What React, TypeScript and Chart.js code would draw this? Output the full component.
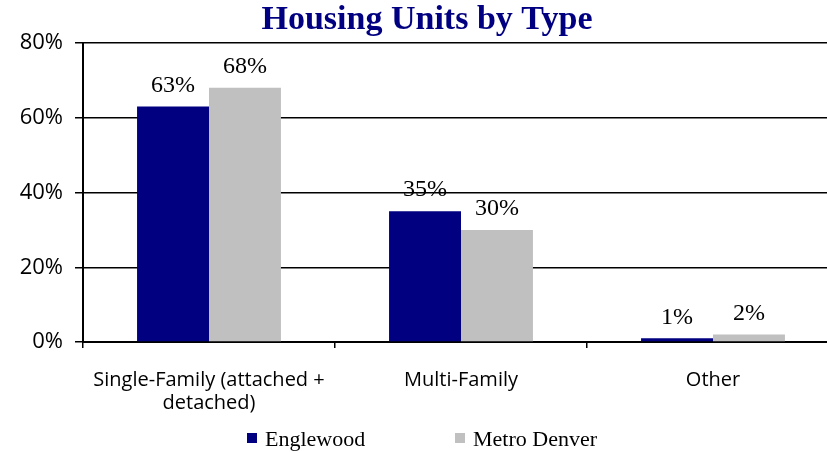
import React, { useEffect, useRef } from "react";
import { Chart, registerables } from "chart.js";

Chart.register(...registerables);

const titleText = "Housing Units by Type";
const categories: (string | string[])[] = [
  ["Single-Family (attached +", "detached)"],
  "Multi-Family",
  "Other",
];
const seriesNames = ["Englewood", "Metro Denver"];
const englewood = [63, 35, 1];
const metroDenver = [68, 30, 2];
const yTicks = [0, 20, 40, 60, 80];
const colors = ["#000080", "#C0C0C0"];

const titlePlugin = {
  id: "customTitle",
  afterDraw(chart: any) {
    const ctx = chart.ctx;
    ctx.save();
    ctx.font = 'bold 34px "Liberation Serif"';
    ctx.fillStyle = "#000080";
    ctx.textAlign = "center";
    ctx.textBaseline = "middle";
    ctx.fillText(titleText, 427, 20);
    ctx.restore();
  },
};

const dataLabelPlugin = {
  id: "dataLabels",
  afterDatasetsDraw(chart: any) {
    const ctx = chart.ctx;
    ctx.save();
    ctx.font = '24px "Liberation Serif"';
    ctx.fillStyle = "#000";
    ctx.textAlign = "center";
    ctx.textBaseline = "middle";
    chart.data.datasets.forEach((ds: any, di: number) => {
      const meta = chart.getDatasetMeta(di);
      meta.data.forEach((bar: any, i: number) => {
        ctx.fillText(ds.data[i] + "%", bar.x, bar.y - 21);
      });
    });
    ctx.restore();
  },
};

const legendPlugin = {
  id: "customLegend",
  afterDraw(chart: any) {
    const ctx = chart.ctx;
    ctx.save();
    ctx.font = '22px "Liberation Serif"';
    ctx.textBaseline = "middle";
    ctx.textAlign = "left";
    const starts = [247, 455];
    const y = 440;
    chart.data.datasets.forEach((ds: any, di: number) => {
      const x = starts[di];
      ctx.fillStyle = ds.backgroundColor;
      ctx.fillRect(x, y - 7, 10, 10);
      ctx.fillStyle = "#000";
      ctx.fillText(ds.label, x + 18, y);
    });
    ctx.restore();
  },
};

export default function App() {
  const ref = useRef<HTMLCanvasElement>(null);
  useEffect(() => {
    if (!ref.current) return;
    const chart = new Chart(ref.current, {
      type: "bar",
      data: {
        labels: categories,
        datasets: [
          { label: seriesNames[0], data: englewood, backgroundColor: colors[0] },
          { label: seriesNames[1], data: metroDenver, backgroundColor: colors[1] },
        ],
      },
      plugins: [dataLabelPlugin, legendPlugin, titlePlugin],
      options: {
        animation: false,
        responsive: false,
        maintainAspectRatio: false,
        layout: { padding: { left: 0, right: 0, top: 43, bottom: 36 } },
        datasets: {
          bar: { barPercentage: 1, categoryPercentage: 0.571 },
        },
        plugins: {
          legend: { display: false },
          tooltip: { enabled: false },
          title: { display: false },
        },
        scales: {
          x: {
            grid: {
              offset: true,
              drawOnChartArea: false,
              drawTicks: true,
              tickLength: 6,
              color: "#000",
              lineWidth: 1.5,
            },
            border: { color: "#000", width: 2 },
            ticks: {
              color: "#000",
              padding: 21,
              font: { family: "Open Sans", size: 20, lineHeight: 1.15 },
            },
            afterFit(scale: any) {
              scale.height = 75;
            },
          },
          y: {
            min: 0,
            max: 80,
            afterBuildTicks(scale: any) {
              scale.ticks = yTicks.map((v) => ({ value: v }));
            },
            grid: {
              color: "#000",
              lineWidth: 1.5,
              drawTicks: true,
              tickLength: 8,
            },
            border: { color: "#000", width: 2 },
            ticks: {
              color: "#000",
              padding: 12,
              font: { family: "Open Sans", size: 22 },
              callback: (v: any) => v + "%",
            },
            afterFit(scale: any) {
              scale.width = 83;
            },
          },
        },
      },
    });
    return () => chart.destroy();
  }, []);
  return (
    <div style={{ position: "fixed", left: 0, top: 0, width: 827, height: 453, overflow: "hidden", background: "#fff" }}>
      <canvas ref={ref} width={839} height={453} style={{ width: 839, height: 453, display: "block" }} />
    </div>
  );
}
